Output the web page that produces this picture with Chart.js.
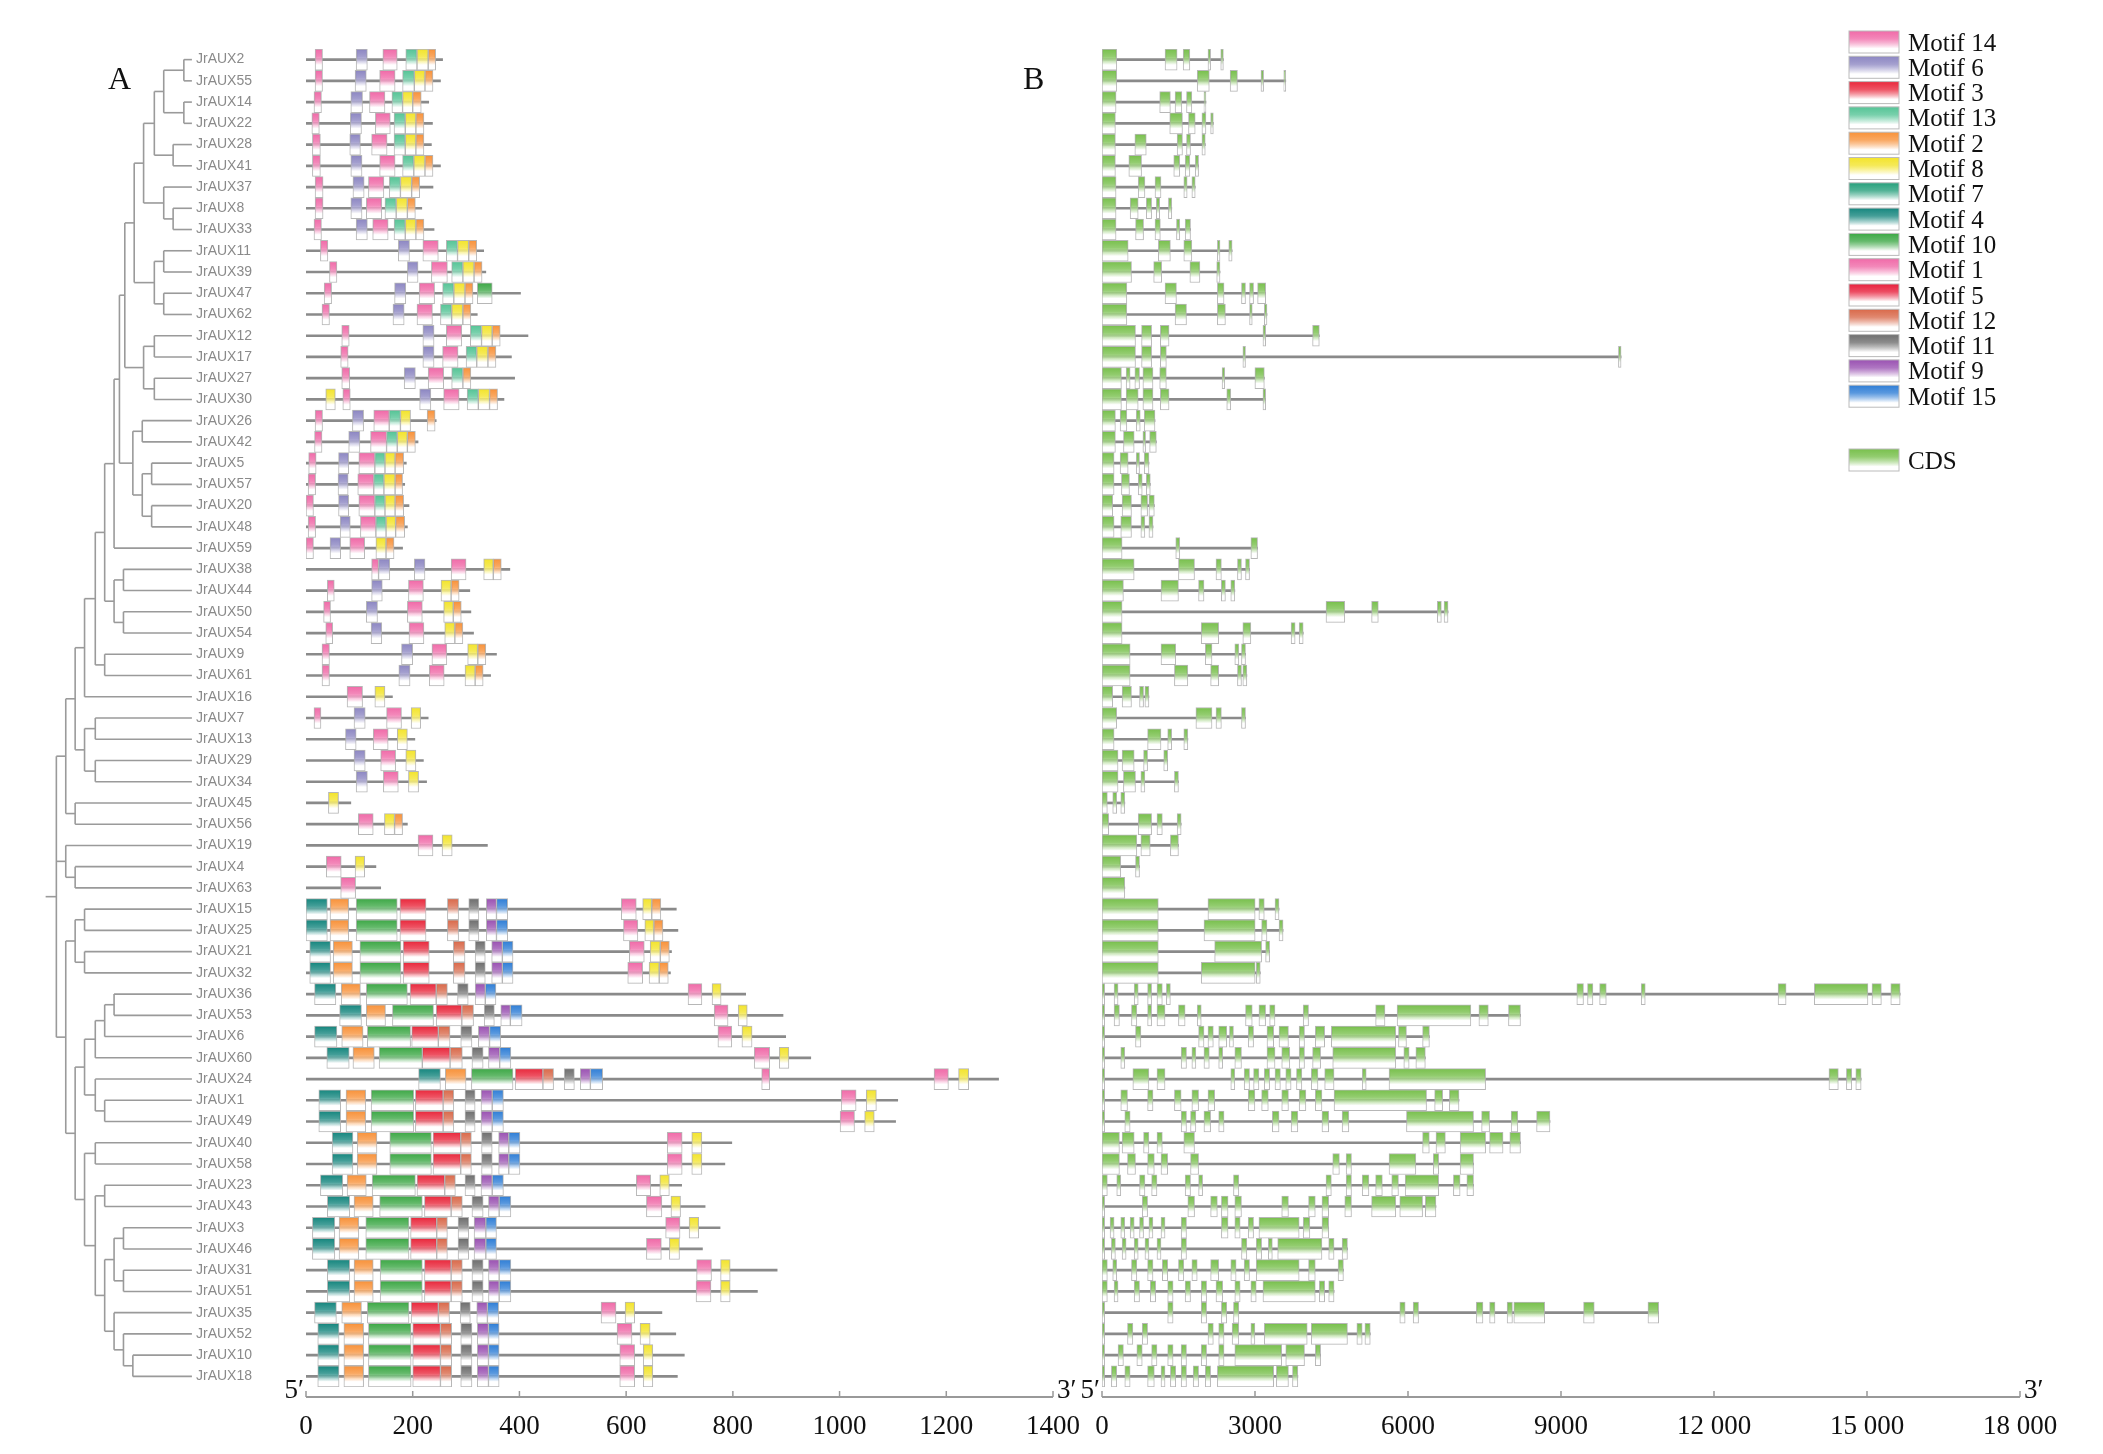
<!DOCTYPE html>
<html>
<head>
<meta charset="utf-8">
<script src="https://cdn.jsdelivr.net/npm/chart.js@4.4.1/dist/chart.umd.min.js"></script>
<style>
body{margin:0;background:#fff;width:2103px;height:1454px;position:relative;overflow:hidden}
#wa{position:absolute;left:0;top:0;width:1100px;height:1454px}
#wb{position:absolute;left:1060px;top:0;width:1043px;height:1454px}
</style>
</head>
<body>
<div id="wa"><canvas id="motifChart"></canvas></div>
<div id="wb"><canvas id="structChart"></canvas></div>
<script>
// gene order (top to bottom, as in the tree)
const genes = ['JrAUX2','JrAUX55','JrAUX14','JrAUX22','JrAUX28','JrAUX41','JrAUX37','JrAUX8','JrAUX33',
  'JrAUX11','JrAUX39','JrAUX47','JrAUX62','JrAUX12','JrAUX17','JrAUX27','JrAUX30',
  'JrAUX26','JrAUX42','JrAUX5','JrAUX57','JrAUX20','JrAUX48','JrAUX59',
  'JrAUX38','JrAUX44','JrAUX50','JrAUX54','JrAUX9','JrAUX61','JrAUX16',
  'JrAUX7','JrAUX13','JrAUX29','JrAUX34','JrAUX45','JrAUX56','JrAUX19','JrAUX4','JrAUX63',
  'JrAUX15','JrAUX25','JrAUX21','JrAUX32','JrAUX36','JrAUX53','JrAUX6','JrAUX60','JrAUX24','JrAUX1','JrAUX49',
  'JrAUX40','JrAUX58','JrAUX23','JrAUX43','JrAUX3','JrAUX46','JrAUX31','JrAUX51','JrAUX35','JrAUX52','JrAUX10','JrAUX18'];

// protein length (aa)
const proteinLength = [256,252,230,237,235,252,238,217,240,333,337,402,321,416,385,391,371,244,210,188,185,193,190,181,
  382,307,309,314,357,346,162,229,204,220,226,84,190,340,131,140,
  694,697,685,683,824,894,899,946,1298,1109,1105,798,785,704,748,776,743,883,846,667,693,709,696];

// motif sites per gene: [motif number, start, end]
const arfA = [[4,0,40],[2,45,80],[10,94,171],[3,176,225],[12,265,286],[11,305,324],[9,338,357],[15,357,378]];
const arfB = [[4,7,46],[2,51,87],[10,101,178],[3,182,231],[12,276,298],[11,317,336],[9,348,368],[15,368,388]];
const motifSites = [
  [[14,17,31],[6,94,115],[1,144,171],[13,187,208],[8,208,229],[2,229,243]],
  [[14,17,31],[6,92,113],[1,138,167],[13,181,203],[8,203,223],[2,223,238]],
  [[14,15,29],[6,84,106],[1,119,148],[13,161,181],[8,181,200],[2,200,216]],
  [[14,11,25],[6,83,104],[1,130,158],[13,165,186],[8,186,206],[2,206,221]],
  [[14,12,27],[6,82,102],[1,123,152],[13,165,186],[8,186,206],[2,206,221]],
  [[14,12,27],[6,84,105],[1,138,167],[13,181,202],[8,202,223],[2,223,238]],
  [[14,17,32],[6,88,109],[1,117,146],[13,156,177],[8,177,198],[2,198,213]],
  [[14,17,32],[6,84,105],[1,113,142],[13,148,169],[8,169,190],[2,190,205]],
  [[14,15,29],[6,94,115],[1,125,154],[13,165,186],[8,186,206],[2,206,221]],
  [[14,27,41],[6,173,194],[1,219,248],[13,263,284],[8,284,305],[2,305,320]],
  [[14,44,58],[6,190,210],[1,235,265],[13,273,294],[8,294,315],[2,315,330]],
  [[14,34,48],[6,166,187],[1,212,241],[13,256,277],[8,277,298],[2,298,313],[10,321,349]],
  [[14,30,44],[6,163,184],[1,208,237],[13,252,273],[8,273,294],[2,294,309]],
  [[14,67,81],[6,219,240],[1,263,292],[13,308,329],[8,329,349],[2,349,364]],
  [[14,65,79],[6,219,240],[1,256,285],[13,300,320],[8,320,341],[2,341,356]],
  [[14,67,82],[6,184,205],[1,229,258],[13,273,294],[2,294,309]],
  [[8,37,55],[14,69,83],[6,213,234],[1,258,287],[13,302,323],[8,323,344],[2,344,359]],
  [[14,17,31],[6,87,108],[1,127,156],[13,156,177],[8,177,196],[2,227,242]],
  [[14,16,30],[6,80,101],[1,121,151],[13,151,171],[8,171,190],[2,190,205]],
  [[14,5,19],[6,61,80],[1,99,129],[13,129,148],[8,148,167],[2,167,183]],
  [[14,4,18],[6,60,79],[1,97,127],[13,127,146],[8,146,167],[2,167,181]],
  [[14,0,14],[6,61,80],[1,99,129],[13,129,148],[8,148,167],[2,167,183]],
  [[14,4,18],[6,64,83],[1,102,131],[13,131,150],[8,150,168],[2,168,185]],
  [[14,0,14],[6,45,65],[1,82,110],[8,131,150],[2,150,165]],
  [[14,123,136],[6,136,157],[6,203,223],[1,272,300],[8,333,351],[2,351,366]],
  [[14,40,53],[6,123,143],[1,192,220],[8,253,272],[2,272,287]],
  [[14,33,46],[6,113,134],[1,190,218],[8,258,276],[2,276,291]],
  [[14,37,50],[6,122,142],[1,193,221],[8,260,279],[2,279,294]],
  [[14,30,44],[6,179,200],[1,236,264],[8,303,322],[2,322,337]],
  [[14,30,44],[6,174,195],[1,231,259],[8,298,317],[2,317,332]],
  [[1,77,106],[8,129,148]],
  [[14,15,28],[6,90,111],[1,151,179],[8,197,215]],
  [[6,74,94],[1,126,154],[8,171,190]],
  [[6,90,111],[1,140,168],[8,187,206]],
  [[6,94,115],[1,145,173],[8,192,211]],
  [[8,42,61]],
  [[1,98,126],[8,147,166],[2,166,181]],
  [[1,210,238],[8,255,274]],
  [[1,38,66],[8,92,110]],
  [[1,65,93]],
  arfA.concat([[1,591,619],[8,631,648],[2,648,665]]),
  arfA.concat([[1,595,622],[8,635,652],[2,652,669]]),
  arfB.concat([[1,606,634],[8,645,664],[2,664,681]]),
  arfB.concat([[1,603,631],[8,643,662],[2,662,679]]),
  [[4,16,56],[2,66,102],[10,113,190],[3,195,244],[12,244,265],[11,284,304],[9,317,336],[15,336,356],[1,716,742],[8,761,778]],
  [[4,63,104],[2,113,149],[10,162,239],[3,244,292],[12,292,314],[11,334,353],[9,365,383],[15,383,405],[1,765,791],[8,810,827]],
  [[4,16,58],[2,67,107],[10,115,196],[3,198,248],[12,248,270],[11,290,311],[9,323,344],[15,344,365],[1,772,798],[8,817,836]],
  [[4,39,81],[2,88,128],[10,137,218],[3,218,270],[12,270,293],[11,311,332],[9,342,363],[15,363,384],[1,840,869],[8,887,905]],
  [[4,211,252],[2,261,300],[10,310,388],[3,392,444],[12,444,464],[11,484,503],[9,514,533],[15,533,556],[14,854,869],[1,1177,1204],[8,1223,1242]],
  [[4,24,65],[2,75,112],[10,122,202],[3,205,257],[12,257,277],[11,298,317],[9,328,349],[15,349,370],[1,1003,1031],[8,1050,1069]],
  [[4,24,65],[2,75,112],[10,122,202],[3,205,257],[12,257,277],[11,298,317],[9,328,349],[15,349,370],[1,1001,1028],[8,1047,1065]],
  [[4,49,88],[2,96,133],[10,157,235],[3,238,290],[12,290,310],[11,329,349],[9,361,380],[15,380,401],[1,677,705],[8,723,742]],
  [[4,49,88],[2,96,133],[10,157,235],[3,238,290],[12,290,310],[11,329,349],[9,361,380],[15,380,401],[1,677,705],[8,723,742]],
  [[4,27,69],[2,77,113],[10,124,205],[3,208,260],[12,260,280],[11,298,317],[9,328,349],[15,349,370],[1,619,646],[8,663,681]],
  [[4,40,82],[2,90,126],[10,138,218],[3,222,272],[12,272,293],[11,311,332],[9,342,362],[15,362,384],[1,638,667],[8,684,702]],
  [[4,12,54],[2,62,99],[10,112,193],[3,196,245],[12,245,265],[11,285,305],[9,315,337],[15,337,357],[1,674,701],[8,718,736]],
  [[4,12,54],[2,62,99],[10,112,193],[3,196,245],[12,245,265],[11,285,305],[9,315,337],[15,337,357],[1,638,666],[8,681,700]],
  [[4,40,82],[2,90,126],[10,139,218],[3,222,272],[12,272,293],[11,311,332],[9,342,362],[15,362,384],[1,732,760],[8,777,795]],
  [[4,40,82],[2,90,126],[10,139,218],[3,222,272],[12,272,293],[11,311,332],[9,342,362],[15,362,384],[1,731,759],[8,777,795]],
  [[4,16,57],[2,67,104],[10,115,193],[3,197,248],[12,248,269],[11,289,308],[9,320,340],[15,340,361],[1,553,581],[8,598,616]],
  [[4,22,62],[2,71,108],[10,117,197],[3,200,252],[12,252,273],[11,290,311],[9,321,342],[15,342,362],[1,583,611],[8,626,645]],
  [[4,22,62],[2,71,108],[10,117,197],[3,200,252],[12,252,273],[11,290,311],[9,321,342],[15,342,362],[1,588,616],[8,632,650]],
  [[4,22,62],[2,71,108],[10,117,197],[3,200,252],[12,252,273],[11,290,311],[9,321,342],[15,342,362],[1,588,616],[8,632,650]]
];

// exon coordinates per gene (bp)
const exons = [
  [[0,290],[1236,1473],[1591,1723],[2078,2130],[2328,2380]],
  [[0,290],[1867,2104],[2512,2656],[3117,3169],[3564,3603]],
  [[0,276],[1131,1341],[1433,1565],[1657,1762],[1999,2038]],
  [[0,263],[1328,1578],[1696,1828],[1959,2038],[2130,2183]],
  [[0,263],[644,868],[1473,1578],[1657,1736],[1959,2025]],
  [[0,263],[526,776],[1407,1525],[1631,1723],[1828,1894]],
  [[0,276],[710,842],[1039,1157],[1604,1670],[1762,1828]],
  [[0,276],[552,710],[868,973],[1065,1131],[1302,1368]],
  [[0,276],[658,815],[1039,1144],[1460,1525],[1631,1736]],
  [[0,513],[1105,1341],[1604,1762],[2262,2314],[2485,2551]],
  [[0,579],[1013,1170],[1723,1920],[2249,2314]],
  [[0,487],[1236,1460],[2262,2393],[2735,2814],[2893,2972],[3051,3209]],
  [[0,487],[1433,1657],[2262,2420],[2893,2946],[3183,3235]],
  [[0,657],[776,973],[1144,1315],[3156,3209],[4129,4261]],
  [[0,657],[776,973],[1144,1262],[2762,2814],[10126,10178]],
  [[0,381],[473,552],[644,736],[802,1000],[1131,1262],[2354,2407],[2998,3183]],
  [[0,381],[473,710],[802,1000],[1144,1315],[2446,2525],[3156,3209]],
  [[0,263],[355,487],[671,750],[828,1039]],
  [[0,263],[421,631],[802,855],[934,1065]],
  [[0,237],[355,513],[671,736],[828,921]],
  [[0,237],[381,539],[710,789],[868,947]],
  [[0,210],[394,578],[762,894],[920,1026]],
  [[0,237],[368,578],[762,841],[920,1000]],
  [[0,394],[1446,1525],[2919,3050]],
  [[0,631],[1499,1814],[2235,2341],[2656,2735],[2814,2893]],
  [[0,420],[1157,1499],[1893,2000],[2340,2420],[2525,2604]],
  [[0,394],[4392,4760],[5286,5418],[6575,6654],[6707,6785]],
  [[0,394],[1946,2288],[2761,2919],[3708,3787],[3866,3945]],
  [[0,552],[1157,1446],[2025,2157],[2604,2683],[2735,2814]],
  [[0,552],[1420,1683],[2130,2288],[2656,2735],[2761,2840]],
  [[0,210],[394,578],[736,815],[841,920]],
  [[0,289],[1841,2157],[2235,2341],[2735,2814]],
  [[0,237],[894,1157],[1288,1367],[1604,1683]],
  [[0,315],[394,631],[815,894],[1210,1288]],
  [[0,315],[420,657],[762,841],[1420,1499]],
  [[0,105],[210,289],[368,447]],
  [[0,131],[710,973],[1078,1183],[1473,1552]],
  [[0,683],[762,946],[1341,1499]],
  [[0,368],[657,736]],
  [[0,447]],
  [[0,1104],[2077,3003],[3076,3182],[3392,3471]],
  [[0,1104],[2000,3003],[3130,3235],[3471,3550]],
  [[0,1104],[2209,3130],[3208,3287]],
  [[0,1104],[1946,3003],[3024,3103]],
  [[0,53],[237,315],[631,710],[894,973],[1078,1183],[1262,1341],[9310,9441],[9520,9626],[9757,9888],[10573,10652],[13256,13414],[13967,15019],[15098,15282],[15466,15650]],
  [[0,53],[237,342],[578,683],[894,973],[1078,1236],[1499,1630],[1867,1946],[2814,2946],[3077,3208],[3287,3392],[3945,4050],[5365,5549],[5786,7233],[7390,7575],[7970,8206]],
  [[0,53],[657,763],[1894,2000],[2078,2183],[2288,2446],[2499,2578],[2867,2972],[3235,3366],[3471,3656],[3866,3971],[4182,4366],[4497,5760],[5813,5970],[6286,6420]],
  [[0,53],[368,447],[1552,1657],[1762,1841],[1999,2104],[2288,2367],[2604,2735],[3235,3393],[3524,3682],[3866,3971],[4129,4287],[4524,5760],[5918,6023],[6154,6340]],
  [[0,53],[605,920],[1078,1236],[2525,2604],[2788,2893],[2972,3077],[3182,3287],[3392,3498],[3603,3708],[3813,3919],[4103,4235],[4366,4550],[5102,5181],[5628,7522],[14254,14438],[14596,14701],[14780,14885]],
  [[0,53],[368,500],[894,1000],[1420,1552],[1762,1894],[2078,2209],[2867,2998],[3130,3261],[3524,3656],[3866,3998],[4182,4313],[4550,6364],[6522,6680],[6811,7000]],
  [[0,53],[447,552],[1552,1657],[1736,1841],[1999,2130],[2288,2393],[3340,3472],[3708,3840],[4313,4445],[4708,4840],[5970,7285],[7443,7600],[8022,8153],[8521,8784]],
  [[0,342],[394,631],[815,920],[1078,1183],[1604,1814],[6286,6418],[6549,6733],[7022,7522],[7600,7864],[7996,8206]],
  [[0,342],[500,657],[894,1026],[1157,1288],[1736,1894],[4524,4655],[4787,4892],[5628,6154],[6496,6601],[7022,7285]],
  [[0,105],[289,368],[736,842],[973,1078],[1631,1736],[1894,1973],[2578,2683],[4392,4497],[4787,4892],[5102,5234],[5365,5497],[5681,5813],[5944,6601],[6890,7022],[7154,7285]],
  [[0,53],[789,894],[1683,1815],[2130,2262],[2341,2472],[2604,2735],[3524,3656],[4050,4182],[4313,4445],[4760,4892],[5286,5760],[5838,6286],[6340,6548]],
  [[0,53],[158,237],[368,447],[552,631],[736,815],[920,999],[1157,1236],[1552,1657],[2341,2472],[2604,2709],[2867,2972],[3077,3866],[3945,4076],[4313,4445]],
  [[0,53],[184,263],[394,473],[631,710],[842,921],[1078,1157],[1552,1657],[2735,2840],[3024,3130],[3261,3340],[3445,4313],[4445,4550],[4708,4813]],
  [[0,105],[210,289],[578,683],[894,1000],[1183,1288],[1499,1604],[1762,1867],[2130,2288],[2525,2630],[2788,2893],[3024,3866],[4050,4182],[4629,4734]],
  [[0,105],[237,315],[631,736],[947,1052],[1288,1394],[1630,1736],[1946,2051],[2235,2367],[2604,2709],[2919,3024],[3156,4182],[4261,4366],[4445,4550]],
  [[0,53],[1288,1394],[1946,2051],[2341,2446],[2578,2683],[5839,5944],[6101,6207],[7338,7470],[7600,7706],[7943,8048],[8075,8680],[9442,9652],[10705,10915]],
  [[0,53],[500,605],[789,894],[2078,2183],[2288,2393],[2551,2683],[2919,2998],[3182,4024],[4103,4813],[4997,5102],[5155,5260]],
  [[0,53],[315,420],[683,789],[973,1078],[1288,1394],[1552,1657],[1946,2051],[2288,2393],[2604,3524],[3603,3971],[4182,4287]],
  [[0,53],[184,289],[447,552],[894,1026],[1157,1236],[1341,1446],[1552,1657],[1788,1894],[2025,2130],[2262,3366],[3419,3656],[3735,3840]]
];

// tree: [node depth, ...children]; leaves are gene names
const tree = [42,
  [49,
    [56,
      [63,
        [71,
          [78,
            [85,
              [89,
                [93,
                  [100,
                    [107,
                      [115, [122, [137,'JrAUX2','JrAUX55'], [137,'JrAUX14','JrAUX22']], [129,'JrAUX28','JrAUX41']],
                      [122, 'JrAUX37', [129,'JrAUX8','JrAUX33']]],
                    [115, [122,'JrAUX11','JrAUX39'], [122,'JrAUX47','JrAUX62']]],
                  [107, [115,'JrAUX12','JrAUX17'], [115,'JrAUX27','JrAUX30']]],
                [99, [106,'JrAUX26','JrAUX42'], [106, [113,'JrAUX5','JrAUX57'], [113,'JrAUX20','JrAUX48']]]],
              'JrAUX59'],
            [85, [92,'JrAUX38','JrAUX44'], [92,'JrAUX50','JrAUX54']]],
          [78,'JrAUX9','JrAUX61']],
        'JrAUX16'],
      [63, [71,'JrAUX7','JrAUX13'], [71,'JrAUX29','JrAUX34']]],
    [56,'JrAUX45','JrAUX56']],
  [49, 'JrAUX19', [56,'JrAUX4','JrAUX63']],
  [49,
    [56, [63,'JrAUX15','JrAUX25'], [63,'JrAUX21','JrAUX32']],
    [56,
      [63,
        [71, [78, [85,'JrAUX36','JrAUX53'], 'JrAUX6'], 'JrAUX60'],
        [71, 'JrAUX24', [78,'JrAUX1','JrAUX49']]],
      [63,
        [71,'JrAUX40','JrAUX58'],
        [71,
          [78,'JrAUX23','JrAUX43'],
          [78,
            [85, [92,'JrAUX3','JrAUX46'], [92,'JrAUX31','JrAUX51']],
            [85, 'JrAUX35', [92, 'JrAUX52', [99,'JrAUX10','JrAUX18']]]]]]]]
];

const legendMotifs = [14,6,3,13,2,8,7,4,10,1,5,12,11,9,15];
const motifColors = {14:'#f06aa8',6:'#8c86c2',3:'#e9283c',13:'#55c496',2:'#f8923a',8:'#f3e42c',7:'#27a07c',
  4:'#15867e',10:'#3da846',1:'#f06aa8',5:'#e8203c',12:'#d9694a',11:'#6e6e6e',9:'#9a52b2',15:'#2f7ed6'};
const cdsColor = '#78c04c';

const BOX = 21;
const K = 1.342;   // tree depth units -> px
const AXIS_GAP = 10;
const gradCache = {};
function shade(color) {
  return function (c) {
    if (c.type !== 'data' || !c.parsed) return color;
    const ch = c.chart;
    const ys = ch.scales.y;
    if (!ys) return color;
    const py = ys.getPixelForValue(c.parsed.y);
    if (!isFinite(py)) return color;
    const key = ch.id + color + Math.round(py);
    if (!gradCache[key]) {
      const g = ch.ctx.createLinearGradient(0, py - BOX / 2, 0, py + BOX / 2);
      g.addColorStop(0, color);
      g.addColorStop(0.35, color + 'cc');
      g.addColorStop(0.75, '#ffffff');
      g.addColorStop(1, '#ffffff');
      gradCache[key] = g;
    }
    return gradCache[key];
  };
}

const serif = '"Liberation Serif", "DejaVu Serif", serif';
const axisTicks = { font: { family: serif, size: 27 }, color: '#111', padding: AXIS_GAP + 6 };

// ---------- panel A: motifs ----------
const motifDatasets = [{
  label: 'protein', order: 20, barThickness: 2, backgroundColor: '#8a8a8a',
  data: genes.map((g, i) => ({ y: g, x: [0, proteinLength[i]] }))
}];
legendMotifs.forEach(function (m) {
  const pts = [];
  motifSites.forEach(function (sites, i) {
    sites.forEach(function (s) { if (s[0] === m) pts.push({ y: genes[i], x: [s[1], s[2]] }); });
  });
  if (pts.length) motifDatasets.push({
    label: 'Motif ' + m, order: 1, barThickness: BOX, data: pts,
    backgroundColor: shade(motifColors[m]), borderColor: 'rgba(175,175,175,0.9)', borderWidth: 1, borderSkipped: false
  });
});

function drawTree(chart) {
  const ctx = chart.ctx, ys = chart.scales.y;
  ctx.save();
  ctx.strokeStyle = '#9a9a9a';
  ctx.lineWidth = 1.6;
  function walk(node) {
    if (typeof node === 'string') return { x: 143 * K, y: ys.getPixelForValue(genes.indexOf(node)) };
    const x = node[0] * K;
    const kids = node.slice(1).map(walk);
    kids.forEach(function (c) {
      ctx.beginPath(); ctx.moveTo(x, c.y); ctx.lineTo(c.x, c.y); ctx.stroke();
    });
    const y0 = kids[0].y, y1 = kids[kids.length - 1].y;
    ctx.beginPath(); ctx.moveTo(x, y0); ctx.lineTo(x, y1); ctx.stroke();
    return { x: x, y: (y0 + y1) / 2 };
  }
  const r = walk(tree);
  ctx.beginPath(); ctx.moveTo(34 * K, r.y); ctx.lineTo(r.x, r.y); ctx.stroke();
  // gene names
  ctx.fillStyle = '#8a8a8a';
  ctx.font = '14px "Liberation Sans", Arial, sans-serif';
  ctx.textBaseline = 'middle';
  genes.forEach(function (g, i) { ctx.fillText(g, 196, ys.getPixelForValue(i)); });
  ctx.restore();
}

// axis line, tick marks and 5'/3' ends, drawn a little below the last row
function axisLine(chart) {
  const ctx = chart.ctx, a = chart.chartArea, xs = chart.scales.x;
  const y = a.bottom + AXIS_GAP;
  ctx.save();
  ctx.strokeStyle = '#999';
  ctx.lineWidth = 2;
  ctx.beginPath(); ctx.moveTo(a.left, y); ctx.lineTo(a.right, y); ctx.stroke();
  ctx.lineWidth = 1.5;
  xs.ticks.forEach(function (t) {
    const px = xs.getPixelForValue(t.value);
    ctx.beginPath(); ctx.moveTo(px, y); ctx.lineTo(px, y - 6); ctx.stroke();
  });
  ctx.fillStyle = '#111';
  ctx.font = '27px ' + serif;
  ctx.textBaseline = 'middle';
  ctx.textAlign = 'right';
  ctx.fillText('5\u2032', a.left - 2, y - 6);
  ctx.textAlign = 'left';
  ctx.fillText('3\u2032', a.right + 4, y - 6);
  ctx.restore();
}

const xAxisBase = {
  grid: { display: false },
  border: { display: false },
  afterFit: function (s) { s.height = 67; }
};

new Chart(document.getElementById('motifChart'), {
  type: 'bar',
  data: { labels: genes, datasets: motifDatasets },
  options: {
    indexAxis: 'y', responsive: true, maintainAspectRatio: false, animation: false,
    layout: { padding: { left: 306, right: 47, top: 49, bottom: 0 } },
    datasets: { bar: { grouped: false } },
    plugins: { legend: { display: false }, tooltip: { enabled: false } },
    scales: {
      y: { type: 'category', display: false, offset: true },
      x: Object.assign({
        min: 0, max: 1400,
        ticks: Object.assign({ stepSize: 200, callback: function (v) { return String(v); } }, axisTicks)
      }, xAxisBase)
    }
  },
  plugins: [{
    id: 'treeA',
    afterDraw: function (chart) {
      drawTree(chart);
      axisLine(chart);
      const ctx = chart.ctx;
      ctx.save();
      ctx.fillStyle = '#111';
      ctx.font = '32px ' + serif;
      ctx.textBaseline = 'middle';
      ctx.fillText('A', 108, 81);
      ctx.fillText('B', 1023, 81);
      ctx.restore();
    }
  }]
});

// ---------- panel B: gene structure ----------
const structDatasets = [{
  label: 'intron', order: 20, barThickness: 2, backgroundColor: '#8a8a8a',
  data: genes.map((g, i) => ({ y: g, x: [0, exons[i][exons[i].length - 1][1]] }))
}, {
  label: 'CDS', order: 1, barThickness: BOX,
  data: [].concat.apply([], exons.map((ex, i) => ex.map(e => ({ y: genes[i], x: [e[0], e[1]] })))),
  backgroundColor: shade(cdsColor), borderColor: 'rgba(175,175,175,0.9)', borderWidth: 1, borderSkipped: false
}];

new Chart(document.getElementById('structChart'), {
  type: 'bar',
  data: { labels: genes, datasets: structDatasets },
  options: {
    indexAxis: 'y', responsive: true, maintainAspectRatio: false, animation: false,
    layout: { padding: { left: 42, right: 83, top: 49, bottom: 0 } },
    datasets: { bar: { grouped: false } },
    plugins: { legend: { display: false }, tooltip: { enabled: false } },
    scales: {
      y: { type: 'category', display: false, offset: true },
      x: Object.assign({
        min: 0, max: 18000,
        ticks: Object.assign({
          stepSize: 3000,
          callback: function (v) { return v >= 10000 ? String(v).replace(/(\d+)(\d{3})$/, '$1 $2') : String(v); }
        }, axisTicks)
      }, xAxisBase)
    }
  },
  plugins: [{
    id: 'legendB',
    afterDraw: function (chart) {
      axisLine(chart);
      const ctx = chart.ctx;
      ctx.save();
      ctx.font = '25px ' + serif;
      ctx.textBaseline = 'middle';
      function box(y, col, text) {
        const g = ctx.createLinearGradient(0, y - 11, 0, y + 11);
        g.addColorStop(0, col); g.addColorStop(0.35, col + 'cc'); g.addColorStop(0.8, '#fff'); g.addColorStop(1, '#fff');
        ctx.fillStyle = g;
        ctx.fillRect(789, y - 11, 50, 22);
        ctx.strokeStyle = '#bbb'; ctx.lineWidth = 1;
        ctx.strokeRect(789, y - 11, 50, 22);
        ctx.fillStyle = '#111';
        ctx.fillText(text, 848, y + 2);
      }
      legendMotifs.forEach(function (m, i) { box(42 + i * 25.3, motifColors[m], 'Motif ' + m); });
      box(460, cdsColor, 'CDS');
      ctx.restore();
    }
  }]
});
</script>
</body>
</html>
